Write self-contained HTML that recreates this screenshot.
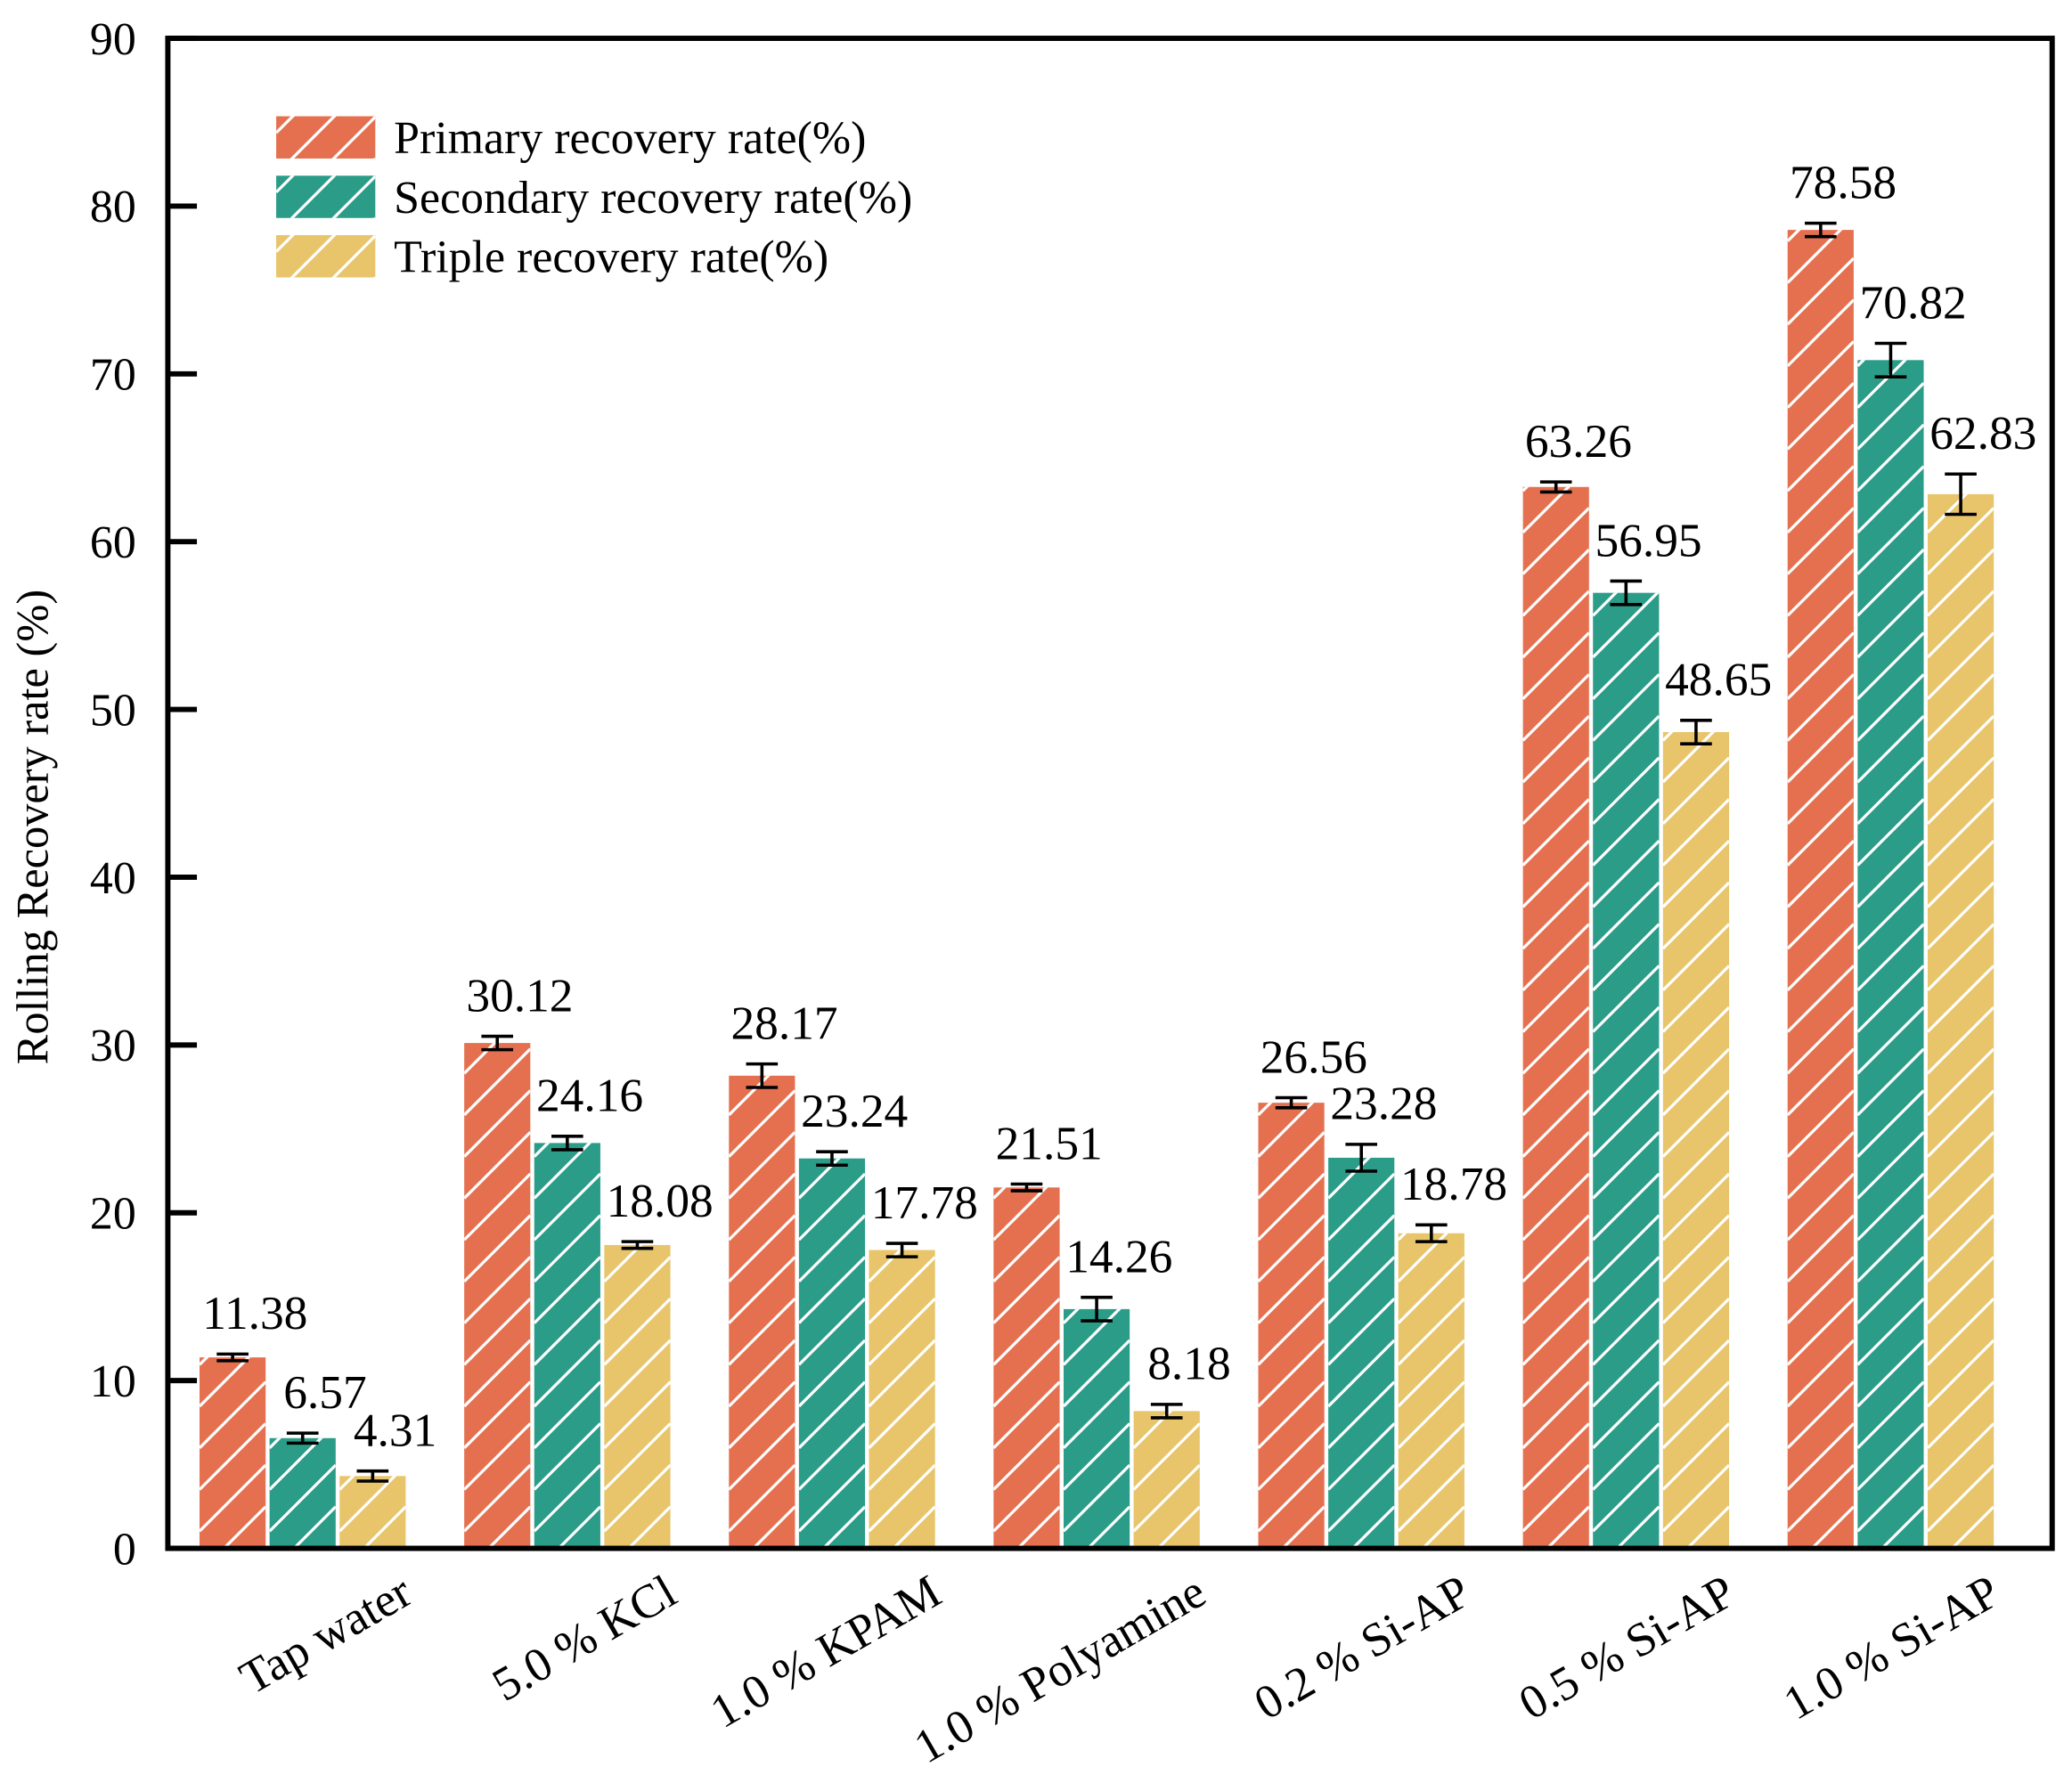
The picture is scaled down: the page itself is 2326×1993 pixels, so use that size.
<!DOCTYPE html>
<html><head><meta charset="utf-8"><style>
html,body{margin:0;padding:0;background:#fff;}
svg{display:block;font-family:"Liberation Serif","Times New Roman",serif;}
</style></head><body>
<svg id="chart" width="2326" height="1993" viewBox="0 0 1568 1343.55" xmlns="http://www.w3.org/2000/svg">
<g id="plot"></g>
</svg>
<script>
const categories = ["Tap water","5.0 % KCl","1.0 % KPAM","1.0 % Polyamine","0.2 % Si-AP","0.5 % Si-AP","1.0 % Si-AP"];
const primary = [11.38,30.12,28.17,21.51,26.56,63.26,78.58];
const secondary = [6.57,24.16,23.24,14.26,23.28,56.95,70.82];
const triple = [4.31,18.08,17.78,8.18,18.78,48.65,62.83];
const primaryErr = [0.2,0.4,0.7,0.2,0.3,0.3,0.4];
const secondaryErr = [0.3,0.4,0.4,0.7,0.8,0.7,1.0];
const tripleErr = [0.3,0.2,0.4,0.4,0.5,0.7,1.2];
const seriesNames = ["Primary recovery rate(%)","Secondary recovery rate(%)","Triple recovery rate(%)"];
const yTicks = [0,10,20,30,40,50,60,70,80,90];

const NS="http://www.w3.org/2000/svg";
const svg=document.getElementById('chart');
const colors=["#E5704F","#2A9C88","#E8C46A"];
const keys=["primary","secondary","tertiary"];
const L=127,R=1553,T=29,B=1172;
const yMax=90;
function py(v){return B-(v/yMax)*(B-T);}
const groupStep=200.3;
function gx(i){return L+102+groupStep*i;}
const barW=50,gap=3;
function mk(tag,attrs,parent){const e=document.createElementNS(NS,tag);for(const k in attrs)e.setAttribute(k,attrs[k]);(parent||svg).appendChild(e);return e;}

let cidN=0;
function hatchRect(x,y,w,h,color,parent){
  mk('rect',{x:x,y:y,width:w,height:h,fill:color},parent);
  const s=31.5;
  const cid='c'+(cidN++);
  const cp=mk('clipPath',{id:cid},parent);
  mk('rect',{x:x,y:y,width:w,height:h},cp);
  const g=mk('g',{'clip-path':`url(#${cid})`},parent);
  let d='';
  for(let yy=B+w; yy>y-s; yy-=s){ d+=`M${x} ${yy} L${x+w} ${yy-w} `; }
  mk('path',{d:d,stroke:'#fff','stroke-width':2.2,fill:'none'},g);
}

const series=[primary,secondary,triple];
const errs=[primaryErr,secondaryErr,tripleErr];
categories.forEach((c,i)=>{
  const g=mk('g',{});
  
  
  series.forEach((s,j)=>{
    const x=gx(i)+(j-1)*(barW+gap)-barW/2;
    const v=s[i];
    const bg=mk('g',{},g);
    
    
    hatchRect(x,py(v),barW,B-py(v),colors[j],bg);
    const cx=x+barW/2, e=errs[j][i];
    const eg=mk('g',{stroke:'#000','stroke-width':2.4},g);
    
    
    mk('line',{x1:cx,x2:cx,y1:py(v+e),y2:py(v-e)},eg);
    mk('line',{x1:cx-12,x2:cx+12,y1:py(v+e),y2:py(v+e)},eg);
    mk('line',{x1:cx-12,x2:cx+12,y1:py(v-e),y2:py(v-e)},eg);
    const t=mk('text',{x:cx+17,y:py(v+e)-19,'font-size':36,'text-anchor':'middle',fill:'#000'},g);
    t.textContent=v.toFixed(2);
    
    
  });
  const lx=gx(i)+85, ly=1212;
  const t=mk('text',{x:lx,y:ly,'font-size':36,'text-anchor':'end',transform:`rotate(-30 ${lx} ${ly})`,fill:'#000'});
  t.textContent=c;
  
  
});

const frame=mk('rect',{x:L,y:T,width:R-L,height:B-T,fill:'none',stroke:'#000','stroke-width':4});


yTicks.forEach(v=>{
  const tk=mk('line',{x1:L,x2:L+22,y1:py(v),y2:py(v),stroke:'#000','stroke-width':4});
  
  
  const t=mk('text',{x:103,y:py(v)+12,'font-size':35,'text-anchor':'end',fill:'#000'});
  t.textContent=v;
  
  
});
const yt=mk('text',{x:0,y:0,'font-size':34,'text-anchor':'middle',transform:'translate(36 626) rotate(-90)',fill:'#000'});
yt.textContent='Rolling Recovery rate (%)';



seriesNames.forEach((n,j)=>{
  const y=88+j*45;
  const lg=mk('g',{});
  
  
  const cid='lc'+j;
  const cp=mk('clipPath',{id:cid},lg);
  mk('rect',{x:209,y:y,width:75,height:32},cp);
  mk('rect',{x:209,y:y,width:75,height:32,fill:colors[j]},lg);
  const g=mk('g',{'clip-path':`url(#${cid})`},lg);
  let d='';
  for(let yy=y+32+75; yy>y-40; yy-=31.5){ d+=`M209 ${yy} L284 ${yy-75} `; }
  mk('path',{d:d,stroke:'#fff','stroke-width':2.2,fill:'none'},g);
  const t=mk('text',{x:298,y:y+28,'font-size':35,fill:'#000'},lg);
  t.textContent=n;
});
</script>
</body></html>
